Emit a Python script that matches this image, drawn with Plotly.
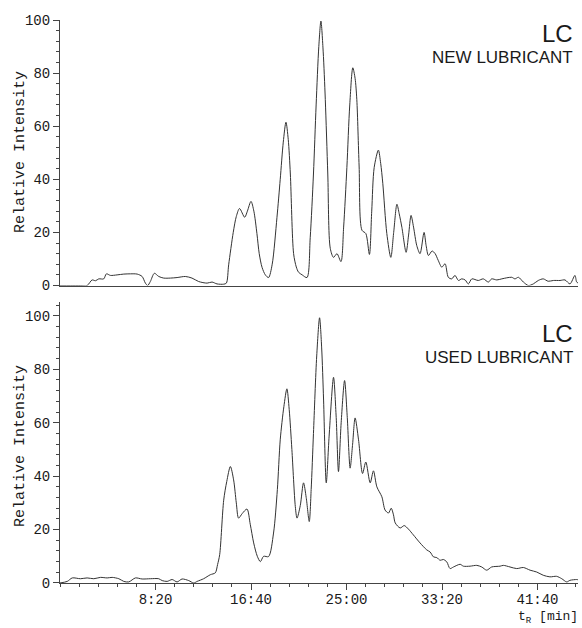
import plotly.graph_objects as go
from plotly.subplots import make_subplots

# Retention time in seconds (ticks shown as min:sec)
new_t = [0, 55, 107, 142, 168, 186, 203, 229, 243, 264, 299, 334, 369, 404, 430, 447, 459, 473, 494,
         517, 543, 578, 613, 656, 691, 726, 770, 796, 822, 857, 871, 883, 907, 923, 940, 967, 981,
         1000, 1015, 1031, 1043, 1058, 1075, 1092, 1111, 1136, 1153, 1169, 1183, 1195, 1206, 1223,
         1237, 1249, 1268, 1293, 1310, 1327, 1341, 1355, 1366, 1378, 1389, 1402, 1415, 1432, 1450,
         1471, 1485, 1502, 1517, 1533, 1545, 1554, 1566, 1581, 1601, 1620, 1632, 1645, 1667, 1679,
         1690, 1711, 1732, 1747, 1764, 1776, 1790, 1812, 1825, 1838, 1851, 1868, 1885, 1906, 1917,
         1929, 1948, 1964, 1980, 1999, 2016, 2033, 2051, 2068, 2086, 2103, 2121, 2138, 2156, 2190,
         2216, 2243, 2260, 2287, 2313, 2339, 2365, 2382, 2400, 2426, 2452, 2478, 2504, 2530, 2556,
         2583, 2618, 2644, 2670, 2696, 2705, 2712]
new_i = [0, 0, 0, 0, 2.1, 1.8, 2.5, 2.5, 4.4, 3.8, 4.0, 4.3, 4.4, 4.3, 3.4, 0.9, 0, 1.5, 4.6,
         3.4, 2.8, 2.8, 3.0, 3.4, 2.8, 1.5, 0.9, 1.3, 0.6, 0.5, 0.9, 7.8, 20, 26, 29, 25.7, 28,
         31.7, 28, 19.6, 12, 6.8, 4, 3, 8, 25.7, 40, 54, 61.5, 55, 42, 12,
         7, 5, 4, 3, 18, 42, 68, 90, 99.6, 88, 70, 42, 14, 10.6, 12,
         9, 22, 44.5, 68, 82, 78, 70, 45, 20.8, 19.6, 11.7, 28, 44.5, 51, 46,
         38.5, 19.6, 10.6, 20, 30.6, 27, 21.9, 12.5, 19, 26.4, 22, 15, 12, 20, 15,
         11.3, 13, 12, 9.5, 6.9, 8.2, 3.1, 2.5, 3.8, 1.9, 2.5, 2.1, 0.6, 2.5, 1.9,
         2.5, 1.3, 2.5, 2.1, 2.5, 2.9, 3.1, 2.5, 3.1, 1.3, 0, 0.6, 1.9, 2.5, 1.6,
         1.9, 1.9, 2.1, 0.6, 3.8, 1.3, 1.0]

used_t = [0, 38, 64, 107, 142, 177, 212, 247, 273, 308, 334, 360, 395, 430, 473, 517, 535, 561,
          587, 613, 639, 674, 700, 718, 752, 787, 813, 825, 836, 857, 873, 892, 909, 923, 935, 954,
          979, 996, 1014, 1033, 1049, 1066, 1092, 1118, 1138, 1153, 1172, 1188, 1200, 1214, 1232,
          1241, 1258, 1275, 1289, 1305, 1315, 1327, 1344, 1359, 1370, 1380, 1394, 1409, 1432, 1446,
          1458, 1472, 1490, 1504, 1519, 1532, 1545, 1563, 1584, 1601, 1624, 1641, 1659, 1685, 1702,
          1720, 1734, 1746, 1755, 1781, 1802, 1824, 1850, 1885, 1920, 1938, 1955, 1973, 1990, 2007,
          2025, 2042, 2060, 2095, 2112, 2147, 2182, 2208, 2234, 2260, 2304, 2321, 2356, 2391, 2426,
          2461, 2496, 2530, 2565, 2600, 2627, 2653, 2670, 2705, 2712]
used_i = [0, 0.6, 1.9, 1.6, 1.9, 1.6, 2.1, 1.9, 2.1, 1.6, 0.6, 0.4, 1.9, 1.5, 1.6, 1.6, 0.9, 0.6,
          1.3, 0.4, 1.5, 0.9, 0, 0.6, 1.6, 3.1, 3.8, 6.9, 10.6, 31, 38, 43.6, 38.6, 30, 24.3, 26,
          27.7, 22, 15, 10, 8, 10, 9.9, 18.7, 35, 53.6, 66, 72.7, 65, 50, 28.6,
          24.3, 29, 37.5, 32, 23, 35, 56, 85, 99.3, 88, 68.5, 37.5, 55, 77, 62,
          41.7, 60, 75.8, 62, 43, 52, 61.8, 53.6, 41, 45.3, 37.5, 42, 36, 32.3, 27.3,
          26.2, 28, 25.5, 22.5, 20.6, 21.5, 20.2, 18, 15, 12.4, 11.6, 9.8, 9.5, 8.5, 8.8,
          7.9, 5.4, 6, 7, 6.3, 6.3, 6.6, 6, 4.8, 6, 6.3, 6.6, 6, 5.4, 5.8,
          4.8, 4.1, 2.9, 2.3, 2.5, 1.6, 0.4, 1, 1.3, 1.2]

tick_vals = [500, 1000, 1500, 2000, 2500]
tick_text = ["8:20", "16:40", "25:00", "33:20", "41:40"]
y_ticks = [0, 20, 40, 60, 80, 100]

MONO = "Liberation Mono, Courier New, monospace"
SANS = "Liberation Sans, Arial, sans-serif"
AX = "#444"
TXT = "#1a1a1a"

fig = make_subplots(rows=2, cols=1, shared_xaxes=False, vertical_spacing=0.03)
line_style = dict(color="#333", width=1, shape="spline", smoothing=0.8)
fig.add_trace(go.Scatter(x=new_t, y=new_i, mode="lines", line=line_style), row=1, col=1)
fig.add_trace(go.Scatter(x=used_t, y=used_i, mode="lines", line=line_style), row=2, col=1)

common_y = dict(showline=True, linecolor=AX, linewidth=1, showgrid=False, zeroline=False,
                ticks="outside", ticklen=6, tickcolor=AX, tickvals=y_ticks,
                tickfont=dict(family=MONO, size=14, color=TXT),
                minor=dict(tickmode="linear", tick0=0, dtick=4, ticks="outside", ticklen=3, tickcolor=AX))

fig.update_layout(
    width=582, height=628, margin=dict(l=60, r=4, t=20, b=45),
    paper_bgcolor="white", plot_bgcolor="white", showlegend=False,
    xaxis=dict(domain=[0, 1], range=[0, 2712], showline=True, linecolor=AX, linewidth=1,
               showgrid=False, zeroline=False, showticklabels=False, ticks=""),
    xaxis2=dict(domain=[0, 1], range=[0, 2712], showline=True, linecolor=AX, linewidth=1,
                showgrid=False, zeroline=False, ticks="outside", ticklen=6, tickcolor=AX,
                tickmode="array", tickvals=tick_vals, ticktext=tick_text, ticklabelstandoff=-3,
                tickfont=dict(family=MONO, size=14, color=TXT),
                minor=dict(tickmode="linear", tick0=0, dtick=100, ticks="outside", ticklen=3, tickcolor=AX)),
    yaxis=dict(domain=[0.5284, 1], range=[0, 100], **common_y),
    yaxis2=dict(domain=[0, 0.4991], range=[0, 105.2], **common_y),
)

ann = []
for yc in [(583 - 152) / 563, (583 - 446) / 563]:
    ann.append(dict(text="Relative Intensity", xref="paper", yref="paper", x=-0.0772, y=yc,
                    textangle=-90, showarrow=False, xanchor="center", yanchor="middle",
                    font=dict(family=MONO, size=15, color=TXT)))
for ylc, ysub, sub in [(0.9769, 0.934, "NEW LUBRICANT"), (0.444, 0.401, "USED LUBRICANT")]:
    ann.append(dict(text="LC", xref="paper", yref="paper", x=0.9942, y=ylc, showarrow=False,
                    xanchor="right", yanchor="middle", font=dict(family=SANS, size=24, color=TXT)))
    ann.append(dict(text=sub, xref="paper", yref="paper", x=0.9942, y=ysub, showarrow=False,
                    xanchor="right", yanchor="middle", font=dict(family=SANS, size=17, color=TXT)))
ann.append(dict(text="t<sub>R</sub> [min]", xref="paper", yref="paper", x=1.004, y=-0.0799,
                showarrow=False, xanchor="right", yanchor="bottom",
                font=dict(family=MONO, size=13, color=TXT)))
fig.update_layout(annotations=ann)

fig.write_html("out.html")
